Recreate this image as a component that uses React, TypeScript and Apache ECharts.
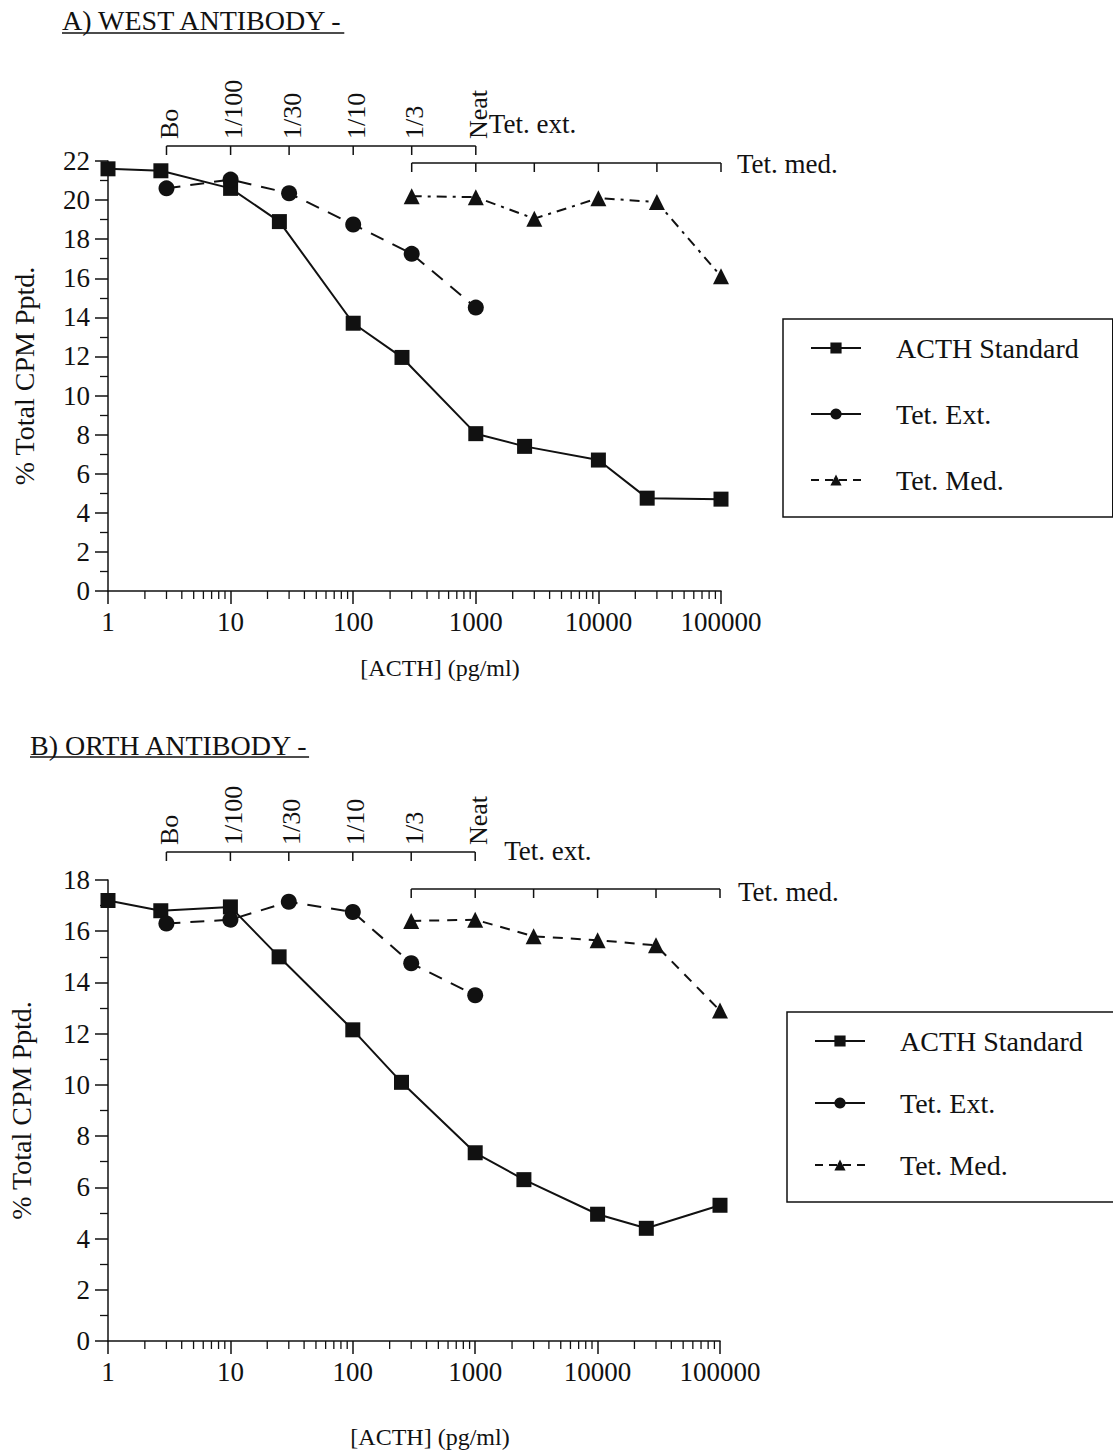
import React, { useEffect, useRef } from 'react';
import * as echarts from 'echarts';

const FONT = '"Liberation Serif", "Times New Roman", serif';
const INK = '#111';

// ---- data ----
const seriesNames = ['ACTH Standard', 'Tet. Ext.', 'Tet. Med.'];
const xTickLabels = ['1', '10', '100', '1000', '10000', '100000'];
const dilutionLabels = ['Bo', '1/100', '1/30', '1/10', '1/3', 'Neat'];

const stdX = [1, 2.7, 10, 25, 100, 250, 1000, 2500, 10000, 25000, 100000];
const extX = [3, 10, 30, 100, 300, 1000];
const medX = [300, 1000, 3000, 10000, 30000, 100000];

const westStd = [21.6, 21.5, 20.6, 18.9, 13.7, 11.95, 8.05, 7.4, 6.7, 4.75, 4.7];
const westExt = [20.6, 21.05, 20.35, 18.75, 17.25, 14.5];
const westMed = [20.2, 20.15, 19.05, 20.1, 19.9, 16.1];

const orthStd = [17.2, 16.8, 16.95, 15.0, 12.15, 10.1, 7.35, 6.3, 4.95, 4.4, 5.3];
const orthExt = [16.3, 16.45, 17.15, 16.75, 14.75, 13.5];
const orthMed = [16.4, 16.45, 15.8, 15.65, 15.45, 12.9];

const zip = (xs: number[], ys: number[]) => xs.map((x, i) => [x, ys[i]]);

// ---- layout ----
const panels = [
  {
    title: 'A) WEST ANTIBODY -', titleX: 62, titleY: 20, underlineY: 33,
    grid: { left: 108, top: 161, width: 613, height: 430 }, yMax: 22,
    extY: 146, medY: 163, extName: { dx: 13, y: 124 }, medName: { dx: 16, y: 164 },
    xName: { x: 440, y: 668 }, yNameGap: 70,
    legend: { left: 783, top: 319, gap: 36 },
    std: westStd, ext: westExt, med: westMed, medDash: [10, 6, 3, 6],
  },
  {
    title: 'B) ORTH ANTIBODY -', titleX: 30, titleY: 745, underlineY: 757,
    grid: { left: 108, top: 880, width: 612, height: 461 }, yMax: 18,
    extY: 852, medY: 889, extName: { dx: 29, y: 851 }, medName: { dx: 18, y: 892 },
    xName: { x: 430, y: 1437 }, yNameGap: 73,
    legend: { left: 787, top: 1012, gap: 32 },
    std: orthStd, ext: orthExt, med: orthMed, medDash: [10, 8],
  },
];

function buildOption() {
  const grids: any[] = [];
  const xAxes: any[] = [];
  const yAxes: any[] = [];
  const series: any[] = [];
  const legends: any[] = [];
  panels.forEach((p, i) => {
    grids.push({ ...p.grid, containLabel: false, outerBoundsMode: 'none' });
    xAxes.push({
      type: 'log', logBase: 10, min: 1, max: 100000, gridIndex: i,
      axisLine: { show: true, onZero: false, lineStyle: { color: INK, width: 1.5 } },
      axisTick: { show: true, inside: false, length: 13, lineStyle: { color: INK, width: 1.5 } },
      axisLabel: {
        color: INK, fontFamily: FONT, fontSize: 27, margin: 17,
        formatter: (v: number) => xTickLabels[Math.round(Math.log10(v))] ?? '',
      },
      splitLine: { show: false },
    });
    yAxes.push({
      type: 'value', min: 0, max: p.yMax, interval: 2, gridIndex: i,
      name: '% Total CPM Pptd.', nameLocation: 'middle', nameGap: p.yNameGap,
      nameTextStyle: { color: INK, fontFamily: FONT, fontSize: 28 },
      axisLine: { show: true, onZero: false, lineStyle: { color: INK, width: 1.5 } },
      axisTick: { show: true, inside: false, length: 13, lineStyle: { color: INK, width: 1.5 } },
      minorTick: { show: true, splitNumber: 2, length: 8, lineStyle: { color: INK, width: 1.3 } },
      axisLabel: { color: INK, fontFamily: FONT, fontSize: 27, margin: 18 },
      splitLine: { show: false },
    });
    series.push(
      {
        name: seriesNames[0], type: 'line', xAxisIndex: i, yAxisIndex: i,
        data: zip(stdX, p.std), symbol: 'rect', symbolSize: 15,
        lineStyle: { color: INK, width: 2 }, itemStyle: { color: INK },
      },
      {
        name: seriesNames[1], type: 'line', xAxisIndex: i, yAxisIndex: i,
        data: zip(extX, p.ext), symbol: 'circle', symbolSize: 16,
        lineStyle: { color: INK, width: 2, type: [14, 10] }, itemStyle: { color: INK },
      },
      {
        name: seriesNames[2], type: 'line', xAxisIndex: i, yAxisIndex: i,
        data: zip(medX, p.med), symbol: 'triangle', symbolSize: 16,
        lineStyle: { color: INK, width: 2, type: p.medDash }, itemStyle: { color: INK },
      },
    );
    legends.push({
      orient: 'vertical', left: p.legend.left, top: p.legend.top,
      itemGap: p.legend.gap, itemWidth: 50, itemHeight: 14,
      borderColor: INK, borderWidth: 1.5, padding: [14, 34, 22, 27],
      textStyle: { color: INK, fontFamily: FONT, fontSize: 28, lineHeight: 30, padding: [0, 0, 0, 30] },
      data: [
        { name: seriesNames[0], lineStyle: { type: 'solid' } },
        { name: seriesNames[1], lineStyle: { type: 'solid' } },
        { name: seriesNames[2], lineStyle: { type: [8, 6] } },
      ],
      selectedMode: false,
    });
  });
  return {
    animation: false,
    backgroundColor: '#fff',
    grid: grids, xAxis: xAxes, yAxis: yAxes, series, legend: legends,
  };
}

function buildGraphics(chart: any) {
  const g: any[] = [];
  const textStyle = (text: string, extra: any = {}) => ({
    text, fill: INK, fontFamily: FONT, fontSize: 27, ...extra,
  });
  const line = (x1: number, y1: number, x2: number, y2: number, w = 1.5) => ({
    type: 'line', shape: { x1, y1, x2, y2 }, style: { stroke: INK, lineWidth: w }, silent: true,
  });
  panels.forEach((p, i) => {
    const px = (v: number) => chart.convertToPixel({ gridIndex: i }, [v, 0])[0];
    const axisY = chart.convertToPixel({ gridIndex: i }, [1, 0])[1];
    // title with underline
    const titleFont = 28;
    const titleW = (echarts.format as any).getTextRect
      ? (echarts.format as any).getTextRect(p.title, `${titleFont}px ${FONT}`).width
      : 290;
    g.push({ type: 'text', x: p.titleX, y: p.titleY, style: textStyle(p.title, { fontSize: titleFont, verticalAlign: 'middle', align: 'left' }) });
    g.push(line(p.titleX, p.underlineY, p.titleX + titleW, p.underlineY, 1.5));
    // x axis name
    g.push({ type: 'text', x: p.xName.x, y: p.xName.y, style: textStyle('[ACTH] (pg/ml)', { fontSize: 24, align: 'center', verticalAlign: 'middle' }) });
    // log minor ticks
    for (let k = 0; k < 5; k++) {
      for (let m = 2; m <= 9; m++) {
        const x = px(m * Math.pow(10, k));
        g.push(line(x, axisY, x, axisY + 8, 1.3));
      }
    }
    // Tet. ext. bracket
    const ex = extX.map(px);
    g.push(line(ex[0], p.extY, ex[ex.length - 1], p.extY));
    ex.forEach((x, j) => {
      g.push(line(x, p.extY, x, p.extY + 9));
      g.push({
        type: 'text', x: x + 3, y: p.extY - 7, rotation: Math.PI / 2,
        style: textStyle(dilutionLabels[j], { fontSize: 26, align: 'left', verticalAlign: 'middle' }),
      });
    });
    g.push({ type: 'text', x: ex[ex.length - 1] + p.extName.dx, y: p.extName.y, style: textStyle('Tet. ext.', { align: 'left', verticalAlign: 'middle' }) });
    // Tet. med. bracket
    const mx = medX.map(px);
    g.push(line(mx[0], p.medY, mx[mx.length - 1], p.medY));
    mx.forEach((x) => g.push(line(x, p.medY, x, p.medY + 9)));
    g.push({ type: 'text', x: mx[mx.length - 1] + p.medName.dx, y: p.medName.y, style: textStyle('Tet. med.', { align: 'left', verticalAlign: 'middle' }) });
  });
  return g;
}

export default function App() {
  const ref = useRef<HTMLDivElement>(null);
  useEffect(() => {
    const chart = echarts.init(ref.current!, null, { renderer: 'svg' });
    chart.setOption(buildOption());
    chart.setOption({ graphic: buildGraphics(chart) });
    return () => chart.dispose();
  }, []);
  return (
    <div
      ref={ref}
      style={{ position: 'absolute', left: 0, top: 0, width: 1113, height: 1454, background: '#fff' }}
    />
  );
}
